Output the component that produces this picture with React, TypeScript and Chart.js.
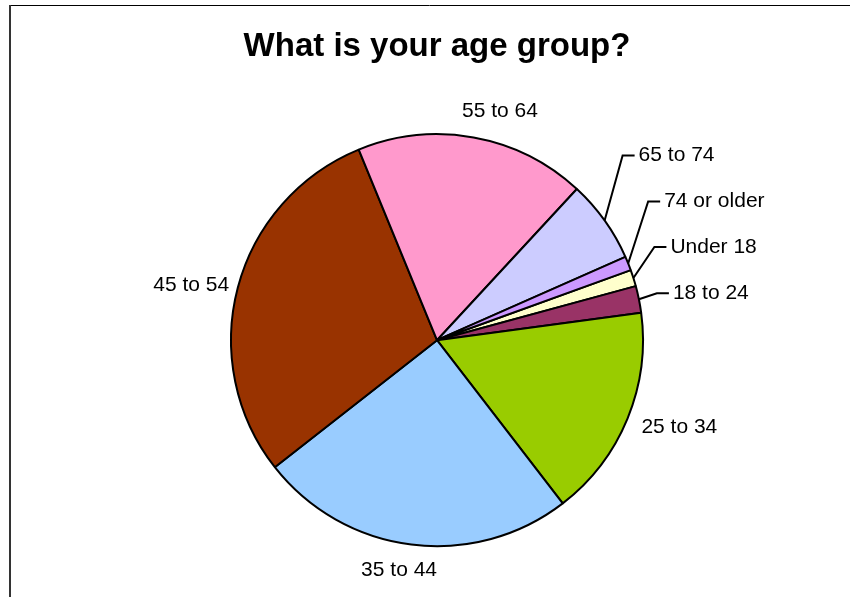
import React, { useEffect, useRef } from 'react';
import { Chart, registerables } from 'chart.js';

Chart.register(...registerables);

const TITLE = 'What is your age group?';
const categories = ['Under 18', '18 to 24', '25 to 34', '35 to 44', '45 to 54', '55 to 64', '65 to 74', '74 or older'];
const shares = [1.3, 2.1, 16.7, 24.9, 29.4, 18.1, 6.5, 1.1];
const sliceColors = ['#FFFFCC', '#993366', '#99CC00', '#99CCFF', '#993300', '#FF99CC', '#CCCCFF', '#CC99FF'];

const FONT = "'Liberation Sans', Arial, Helvetica, sans-serif";

// Label layout (style only): outside labels sit past the rim; leader labels get an elbow offset.
type LabelStyle = { kind: 'outside'; gap: number; nx: number; ny: number } | { kind: 'leader'; ex: number; ey: number };
const labelLayout: LabelStyle[] = [
  { kind: 'leader', ex: 21, ey: -31 },
  { kind: 'leader', ex: 18, ey: -6 },
  { kind: 'outside', gap: 15, nx: 0, ny: 3 },
  { kind: 'outside', gap: 18, nx: -10, ny: 0 },
  { kind: 'outside', gap: 9, nx: 0, ny: 0 },
  { kind: 'outside', gap: 19, nx: 23, ny: 0 },
  { kind: 'leader', ex: 18, ey: -65 },
  { kind: 'leader', ex: 20, ey: -62 },
];

const framePlugin = {
  id: 'frame',
  beforeDraw(chart: any) {
    const { ctx, width, height } = chart;
    ctx.save();
    ctx.fillStyle = '#ffffff';
    ctx.fillRect(0, 0, width, height);
    ctx.strokeStyle = '#000000';
    ctx.lineWidth = 1;
    ctx.beginPath();
    ctx.moveTo(9, 5.5);
    ctx.lineTo(width, 5.5);
    ctx.stroke();
    ctx.strokeStyle = '#333333';
    ctx.lineWidth = 2;
    ctx.beginPath();
    ctx.moveTo(10, 5);
    ctx.lineTo(10, height);
    ctx.stroke();
    ctx.restore();
  },
};

const labelPlugin = {
  id: 'sliceLabels',
  afterDatasetsDraw(chart: any) {
    const { ctx } = chart;
    const meta = chart.getDatasetMeta(0);
    ctx.save();
    ctx.font = `21px ${FONT}`;
    ctx.fillStyle = '#000000';
    ctx.strokeStyle = '#000000';
    ctx.lineWidth = 2;
    meta.data.forEach((arc: any, i: number) => {
      const { x, y, startAngle, endAngle, outerRadius } = arc.getProps(['x', 'y', 'startAngle', 'endAngle', 'outerRadius'], true);
      const mid = (startAngle + endAngle) / 2;
      const cos = Math.cos(mid);
      const sin = Math.sin(mid);
      const style = labelLayout[i];
      const text = categories[i];
      if (style.kind === 'leader') {
        const ax = x + outerRadius * cos;
        const ay = y + outerRadius * sin;
        const bx = ax + style.ex;
        const by = ay + style.ey;
        ctx.beginPath();
        ctx.moveTo(ax, ay);
        ctx.lineTo(bx, by);
        ctx.lineTo(bx + 12, by);
        ctx.stroke();
        ctx.textAlign = 'left';
        ctx.textBaseline = 'middle';
        ctx.fillText(text, bx + 16, by);
      } else {
        const rr = outerRadius + style.gap;
        let px = x + rr * cos;
        let py = y + rr * sin;
        let align: CanvasTextAlign = 'center';
        if (cos > 0.3) align = 'left';
        else if (cos < -0.3) align = 'right';
        if (sin > 0.7) py += 8;
        else if (sin < -0.7) py -= 8;
        px += style.nx;
        py += style.ny;
        ctx.textAlign = align;
        ctx.textBaseline = 'middle';
        ctx.fillText(text, px, py);
      }
    });
    ctx.restore();
  },
};

export default function App() {
  const canvasRef = useRef<HTMLCanvasElement | null>(null);

  useEffect(() => {
    if (!canvasRef.current) return;
    const chart = new Chart(canvasRef.current, {
      type: 'pie',
      data: {
        labels: categories,
        datasets: [
          {
            data: shares,
            backgroundColor: sliceColors,
            borderColor: '#000000',
            borderWidth: 2,
            radius: 206,
          } as any,
        ],
      },
      options: {
        responsive: false,
        animation: false,
        rotation: 70.1,
        layout: { padding: { left: 24, right: 0, top: 0, bottom: 0 } },
        plugins: {
          legend: { display: false },
          tooltip: { enabled: false },
          title: {
            display: true,
            text: TITLE,
            color: '#000000',
            font: { family: FONT, size: 33, weight: 'bold', lineHeight: 1.2 },
            padding: { top: 27.5, bottom: 16.3 },
          },
        },
      },
      plugins: [framePlugin, labelPlugin],
    });
    return () => chart.destroy();
  }, []);

  return (
    <div style={{ position: 'absolute', left: 0, top: 0, width: 850, height: 597, background: '#fff' }}>
      <canvas ref={canvasRef} width={850} height={597} style={{ display: 'block' }} />
    </div>
  );
}
